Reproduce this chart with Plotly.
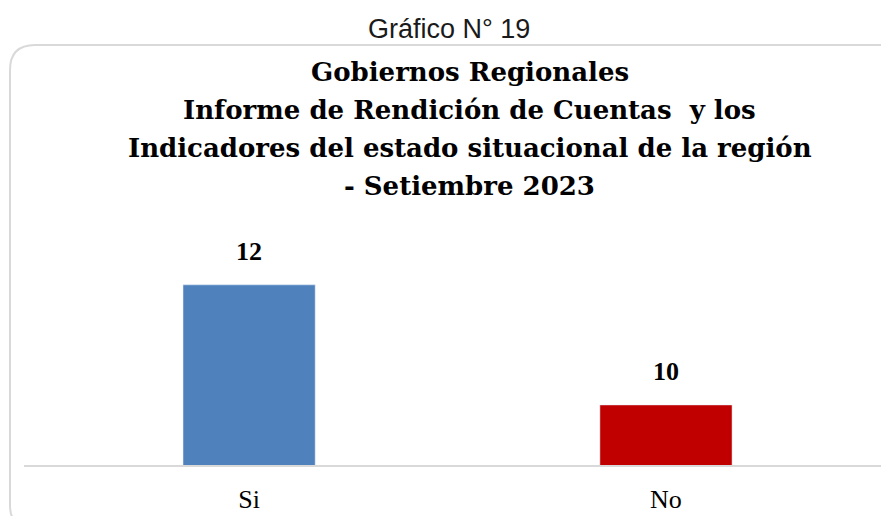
import plotly.graph_objects as go

categories = ["Si", "No"]
values = [12, 10]
colors = ["#4f81bd", "#c00000"]
title_lines = [
    "Gobiernos Regionales",
    "Informe de Rendición de Cuentas  y los",
    "Indicadores del estado situacional de la región",
    "- Setiembre 2023",
]
caption = "Gráfico N° 19"

W, H = 889, 516
OFF = 8  # page body margin
# plot area in screen pixels: left 24, right 889, top 220, bottom 465
L, R, T, B = 24 - OFF, OFF, 220 - OFF, H - (465 - OFF)
pw, ph = W - L - R, H - T - B

def px(x):
    return (x - OFF - L) / pw

def py(y):
    return (H - B - (y - OFF)) / ph

fig = go.Figure(go.Bar(
    x=categories, y=values, marker_color=colors, width=0.317,
    hoverinfo="x+y",
))

anns = []
for c, v in zip(categories, values):
    anns.append(dict(x=c, y=v, xref="x", yref="y", text=f"<b>{v}</b>", showarrow=False,
                     yanchor="bottom", yshift=17,
                     font=dict(family="Liberation Serif", size=26, color="black")))

anns.append(dict(text=caption, x=px(449), y=py(29), xref="paper", yref="paper", yanchor="middle",
                 showarrow=False, font=dict(family="Liberation Sans", size=27, color="#1a1a1a")))
line_y = [72, 110, 148, 186]
for t, yy in zip(title_lines, line_y):
    anns.append(dict(text=f"<b>{t}</b>", x=px(470), y=py(yy), xref="paper", yref="paper",
                     yanchor="middle", showarrow=False,
                     font=dict(family="DejaVu Serif", size=26, color="black")))

border = (f"M {px(900)},{py(530)} L {px(35)},{py(530)} Q {px(10)},{py(530)} {px(10)},{py(505)} "
          f"L {px(10)},{py(70)} Q {px(10)},{py(45)} {px(35)},{py(45)} L {px(900)},{py(45)}")

fig.update_layout(
    width=W, height=H,
    margin=dict(l=L, r=R, t=T, b=B),
    paper_bgcolor="white", plot_bgcolor="white",
    showlegend=False,
    xaxis=dict(range=[-0.54, 1.535], showgrid=False, showline=True, linecolor="#d9d9d9",
               linewidth=2, ticks="", ticklabelstandoff=10,
               tickfont=dict(family="Liberation Serif", size=26, color="black")),
    yaxis=dict(range=[9, 13.08], visible=False),
    shapes=[dict(type="path", path=border, xref="paper", yref="paper",
                 line=dict(color="#d9d9d9", width=2), layer="below")],
    annotations=anns,
)

fig.write_html("out.html")
